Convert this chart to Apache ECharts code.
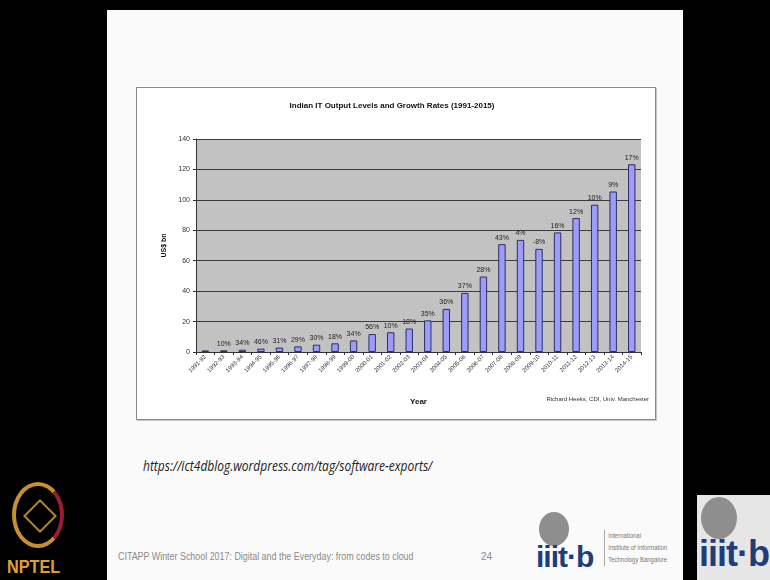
<!DOCTYPE html>
<html>
<head>
<meta charset="utf-8">
<script src="https://cdn.jsdelivr.net/npm/echarts@6/dist/echarts.min.js"></script>
<style>
  body { margin: 0; background: #000; }
  #page { position: relative; width: 770px; height: 580px; background: #000; overflow: hidden; font-family: 'Liberation Sans', Arial, sans-serif; }
  .slide { position: absolute; left: 107px; top: 10px; width: 576px; height: 570px; background: #fafafa; }
  .chart-box { position: absolute; left: 136px; top: 87px; width: 518px; height: 331px; background: #fff; border: 1px solid #8a8a8a; box-shadow: 1px 1px 0 #c4c4c4; }
  #chart { position: absolute; left: 0; top: 0; width: 770px; height: 580px; }
  .url { position: absolute; left: 143px; top: 455px; font: italic 15px 'Open Sans', sans-serif; color: #222; transform: scaleX(0.8); transform-origin: left top; white-space: nowrap; }
  .footer { position: absolute; left: 118px; top: 551px; font: 10px 'Liberation Sans', sans-serif; color: #8a8a8a; transform: scaleX(0.89); transform-origin: left top; white-space: nowrap; }
  .page-no { position: absolute; left: 481px; top: 551px; font: 10px 'Liberation Sans', sans-serif; color: #8a8a8a; }
  .nptel-ring { position: absolute; left: 12px; top: 482px; width: 52px; height: 66px; border-radius: 50%; border: 4px solid #c8912e; border-right-color: #9b1c33; box-sizing: border-box; }
  .nptel-star { position: absolute; left: 28px; top: 504px; width: 20px; height: 20px; border: 2px solid #b8862a; transform: rotate(45deg); }
  .nptel { position: absolute; left: 7px; top: 557px; font: bold 18px 'Liberation Sans', sans-serif; color: #e0a030; transform: scaleX(0.9); transform-origin: left top; }
  .globe { position: absolute; border-radius: 50%; background: #8e8e8e; }
  .iiitb { position: absolute; font: bold 30px 'Liberation Sans', sans-serif; color: #1f3d7a; letter-spacing: -1px; }
  .iiitb-text { position: absolute; left: 604px; top: 530px; font: 7px 'Liberation Sans', sans-serif; color: #777; line-height: 12px; border-left: 1px solid #999; padding-left: 4px; transform: scaleX(0.85); transform-origin: left top; white-space: nowrap; }
  .corner { position: absolute; left: 697px; top: 495px; width: 73px; height: 85px; background: #e6e6e6; overflow: hidden; }
</style>
</head>
<body>
<div id="page">
  <div class="slide"></div>
  <div class="chart-box"></div>
  <div class="url">https://ict4dblog.wordpress.com/tag/software-exports/</div>
  <div class="footer">CITAPP Winter School 2017: Digital and the Everyday: from codes to cloud</div>
  <div class="page-no">24</div>
  <div class="nptel-ring"></div>
  <div class="nptel-star"></div>
  <div class="nptel">NPTEL</div>
  <div class="globe" style="left:539px;top:512px;width:30px;height:34px;"></div>
  <div class="iiitb" style="left:536px;top:540px;">iiit·b</div>
  <div class="iiitb-text">International<br>Institute of Information<br>Technology Bangalore</div>
  <div class="corner">
    <div class="globe" style="left:4px;top:2px;width:36px;height:42px;"></div>
    <div class="iiitb" style="left:2px;top:38px;font-size:36px;">iiit·b</div>
  </div>
  <div id="chart"></div>
</div>
<script>
const years = ['1991-92', '1992-93', '1993-94', '1994-95', '1995-96', '1996-97', '1997-98', '1998-99',
  '1999-00', '2000-01', '2001-02', '2002-03', '2003-04', '2004-05', '2005-06', '2006-07',
  '2007-08', '2008-09', '2009-10', '2010-11', '2011-12', '2012-13', '2013-14', '2014-15']
const outputBn = [1.0, 1.1, 1.5, 2.2, 2.9, 3.7, 4.8, 5.7, 7.6, 11.8, 13.0, 15.4,
  20.8, 28.3, 38.8, 49.6, 70.9, 73.7, 67.8, 78.6, 88.0, 96.8, 105.5, 123.4]
const growthLabels = ['', '10%', '34%', '46%', '31%', '29%', '30%', '18%', '34%', '56%', '10%', '18%',
  '35%', '36%', '37%', '28%', '43%', '4%', '-8%', '16%', '12%', '10%', '9%', '17%']

const chart = echarts.init(document.getElementById('chart'))

const option = {
  backgroundColor: 'transparent',
  textStyle: { fontFamily: 'Liberation Sans, Arial, sans-serif' },
  animation: false,
  graphic: [
    {
      type: 'text',
      x: 392,
      y: 106,
      style: {
        text: 'Indian IT Output Levels and Growth Rates (1991-2015)',
        font: 'bold 8px Liberation Sans',
        fill: '#111',
        align: 'center',
        verticalAlign: 'middle'
      }
    },
    {
      type: 'text',
      x: 649,
      y: 399,
      style: {
        text: 'Richard Heeks, CDI, Univ. Manchester',
        font: '6px Liberation Sans',
        fill: '#333',
        align: 'right',
        verticalAlign: 'middle'
      }
    }
  ],
  grid: {
    left: 196,
    right: 129,
    top: 139,
    bottom: 228,
    show: true,
    backgroundColor: '#c2c2c2',
    borderWidth: 0
  },
  xAxis: {
    type: 'category',
    data: years,
    name: 'Year',
    nameLocation: 'middle',
    nameGap: 46,
    nameTextStyle: { fontSize: 8, fontWeight: 'bold', color: '#111' },
    axisLine: { lineStyle: { color: '#333', width: 1 } },
    axisTick: { show: true, length: 3, lineStyle: { color: '#333' } },
    axisLabel: { rotate: 45, interval: 0, fontSize: 6, color: '#333', margin: 4 }
  },
  yAxis: {
    type: 'value',
    min: 0,
    max: 140,
    interval: 20,
    name: 'US$ bn',
    nameLocation: 'middle',
    nameGap: 24,
    nameTextStyle: { fontSize: 7, fontWeight: 'bold', color: '#111' },
    axisLine: { show: true, lineStyle: { color: '#333', width: 1 } },
    axisTick: { show: true, length: 3, lineStyle: { color: '#333' } },
    axisLabel: { fontSize: 7, color: '#333', margin: 6 },
    splitLine: { show: true, lineStyle: { color: '#3c3c3c', width: 1 } }
  },
  series: [
    {
      type: 'bar',
      data: outputBn,
      barWidth: '40%',
      itemStyle: {
        color: '#9c9cfb',
        borderColor: '#2e2e60',
        borderWidth: 1
      },
      label: {
        show: true,
        position: 'top',
        distance: 3,
        fontSize: 7,
        color: '#222',
        formatter: p => growthLabels[p.dataIndex]
      }
    }
  ]
}

chart.setOption(option)
</script>
</body>
</html>
